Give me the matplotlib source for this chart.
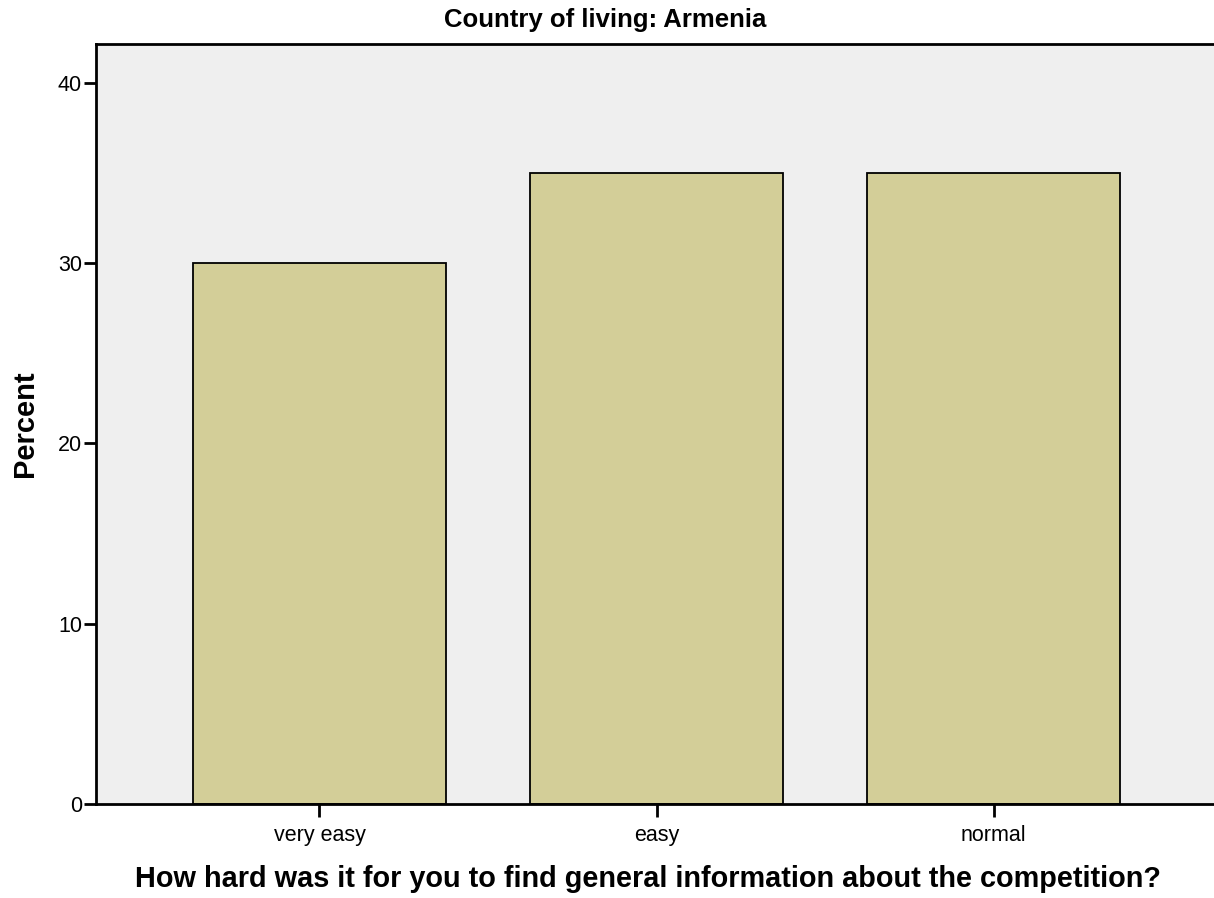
import matplotlib
matplotlib.use("Agg")
import matplotlib.pyplot as plt

plt.rcParams['font.family'] = ['Liberation Sans', 'DejaVu Sans']

# data
categories = ["very easy", "easy", "normal"]
percents = [30, 35, 35]
yticks = [0, 10, 20, 30, 40]

W, H = 1214, 898
fig = plt.figure(figsize=(W / 100, H / 100), dpi=100)
ax = fig.add_axes([96 / W, (H - 804) / H, (1217 - 96) / W, (804 - 44) / H])
ax.set_facecolor("#efefef")

x = range(len(categories))
ax.bar(x, percents, width=0.75, color="#d3ce98", edgecolor="black", linewidth=1.3, zorder=2)

ax.set_xlim(-0.663, 2.663)
ax.set_ylim(0, 42.16)
ax.set_xticks(list(x))
ax.set_xticklabels(categories, fontsize=15.5)
ax.set_yticks(yticks)
ax.set_yticklabels([str(v) for v in yticks], fontsize=15.5)
ax.tick_params(axis="y", length=9, width=2, pad=1)
ax.tick_params(axis="x", length=9, width=2, pad=6)

for side in ["left", "top", "bottom"]:
    ax.spines[side].set_linewidth(2)
ax.spines["right"].set_visible(False)

ax.set_ylabel("Percent", fontsize=21, fontweight="bold", labelpad=14)
fig.text(605 / W, 1 - 27 / H, "Country of living: Armenia", fontsize=18.5,
         fontweight="bold", ha="center", va="baseline")
fig.text(648 / W, 1 - 887 / H, "How hard was it for you to find general information about the competition?",
         fontsize=20.8, fontweight="bold", ha="center", va="baseline")

fig.savefig("out.png", dpi=100)
